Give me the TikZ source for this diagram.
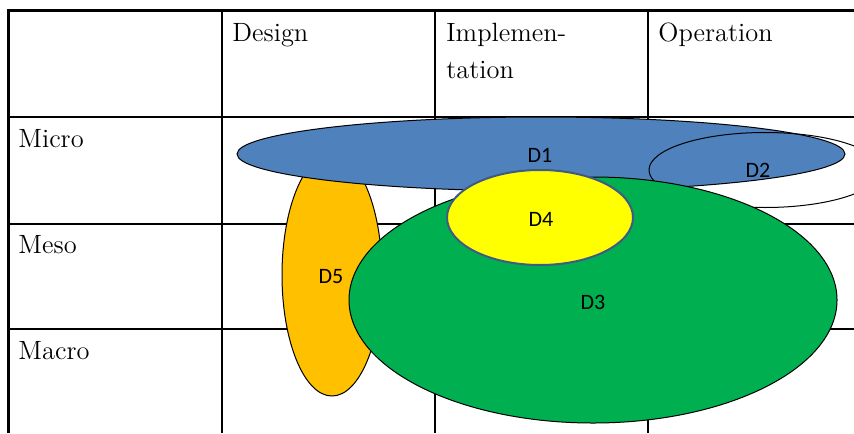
\documentclass[tikz,border=0pt]{standalone}
\usepackage{fontspec}
\newfontfamily\domfont{Carlito}
\definecolor{domblue}{HTML}{4F81BD}
\definecolor{domgreen}{HTML}{00B050}
\definecolor{domorange}{HTML}{FFC000}
\definecolor{domyellow}{HTML}{FFFF00}
\definecolor{domedge}{HTML}{3F5A85}
\tikzset{
  cell/.style={anchor=base west, inner sep=0pt, align=left, font=\fontsize{13.2}{18}\selectfont},
  dom/.style={inner sep=0pt, font=\domfont\fontsize{11}{13}\selectfont},
  rule/.style={line width=0.6pt},
  blob/.style={draw=black, line width=0.5pt},
}
\begin{document}
\begin{tikzpicture}[x=0.5pt,y=-0.5pt]
\useasboundingbox (0,0) rectangle (854,433);
\draw[rule] (8,117) -- (854,117);
\draw[rule] (8,224) -- (854,224);
\draw[rule] (8,329) -- (854,329);
\draw[rule] (222,11) -- (222,433);
\draw[rule] (435,11) -- (435,433);
\draw[rule] (648,11) -- (648,433);
\draw[line width=1.5pt, line join=miter] (854,11) -- (8,11) -- (8,433);
\node[cell] (design) at (232,42) {Design};
\node[cell] (impl) at (446,78) {Implemen-\\tation};
\node[cell] (oper) at (658,42) {Operation};
\node[cell] (micro) at (18,147) {Micro};
\node[cell] (meso) at (18,253) {Meso};
\node[cell] (macro) at (18,359) {Macro};
% the domains, back to front
\filldraw[blob, fill=domorange] (332,275) ellipse [x radius=50, y radius=121];
\filldraw[blob, fill=domblue] (541,154) ellipse [x radius=304, y radius=37];
\draw[blob] (765,170) ellipse [x radius=116, y radius=37.5];
\filldraw[blob, fill=domgreen] (593,300) ellipse [x radius=244, y radius=123];
\filldraw[draw=domedge, line width=1pt, fill=domyellow] (540,217.5) ellipse [x radius=93, y radius=47.5];
\node[dom] (d1) at (540,155) {D1};
\node[dom] (d2) at (758,170) {D2};
\node[dom] (d3) at (593,302) {D3};
\node[dom] (d4) at (541,219) {D4};
\node[dom] (d5) at (331,277) {D5};
\end{tikzpicture}
\end{document}
